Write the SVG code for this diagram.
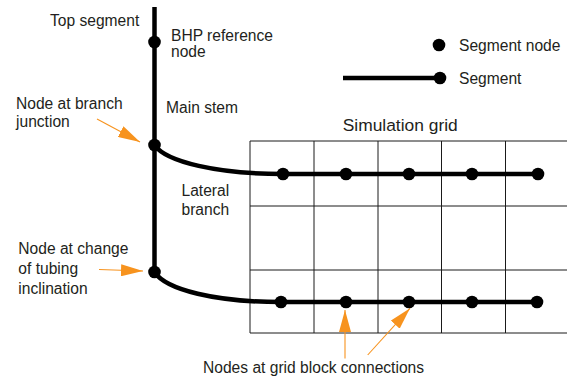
<svg xmlns="http://www.w3.org/2000/svg" width="567" height="379" viewBox="0 0 567 379">
<style>
.lbl{font-family:"Liberation Sans",Arial,sans-serif;font-size:15.6px;fill:#231f20}
.title{font-family:"Liberation Sans",Arial,sans-serif;font-size:17.4px;fill:#231f20}
.seg{stroke:#000;stroke-width:4.5;fill:none;stroke-linecap:butt}
.node{fill:#000}
.grid{stroke:#1a1a1a;stroke-width:1;fill:none}
.arr{stroke:#f7931e;stroke-width:1.1;fill:none}
</style>
<defs>
<marker id="ah" markerUnits="userSpaceOnUse" markerWidth="22" markerHeight="12" refX="22" refY="6" orient="auto">
<path d="M0,0 L22,6 L0,12 Z" fill="#f7931e"/>
</marker>
</defs>
<g id="grid">
<path class="grid" d="M250,141H567M250,206H567M250,270H567M250,333H567M250,141V333M314,141V333M378,141V333M441.5,141V333M505.5,141V333"/>
</g>
<g id="connectors">
<path class="seg" d="M154.5,7V272"/>
<path class="seg" d="M154.5,145C166,162 218,174 283,174H538"/>
<path class="seg" d="M154.5,272C166,290 216,302 281,302H537"/>
<path class="seg" d="M343,78H440"/>
<line class="arr" x1="97" y1="119" x2="140" y2="142" marker-end="url(#ah)"/>
<line class="arr" x1="99" y1="269.5" x2="143" y2="271" marker-end="url(#ah)"/>
<line class="arr" x1="345" y1="358.5" x2="345" y2="310" marker-end="url(#ah)"/>
<line class="arr" x1="367.7" y1="355" x2="410" y2="308.3" marker-end="url(#ah)"/>
</g>
<g id="bhp-node"><circle class="node" cx="154.5" cy="42" r="6.3"/></g>
<g id="junction-node"><circle class="node" cx="154.5" cy="145" r="6.3"/></g>
<g id="inclination-node"><circle class="node" cx="154.5" cy="272" r="6.3"/></g>
<g id="upper-nodes">
<circle class="node" cx="283" cy="174" r="6.3"/>
<circle class="node" cx="346" cy="174" r="6.3"/>
<circle class="node" cx="409" cy="174" r="6.3"/>
<circle class="node" cx="472" cy="174" r="6.3"/>
<circle class="node" cx="538" cy="174" r="6.3"/>
</g>
<g id="lower-nodes">
<circle class="node" cx="281" cy="302" r="6.3"/>
<circle class="node" cx="346" cy="302" r="6.3"/>
<circle class="node" cx="409" cy="302" r="6.3"/>
<circle class="node" cx="472" cy="302" r="6.3"/>
<circle class="node" cx="537" cy="302" r="6.3"/>
</g>
<g id="legend">
<circle class="node" cx="439" cy="45" r="6.3"/>
<circle class="node" cx="440" cy="78" r="6.3"/>
<text class="lbl" x="459" y="50.5">Segment node</text>
<text class="lbl" x="459" y="83.5">Segment</text>
</g>
<g id="labels">
<text class="lbl" x="50" y="26">Top segment</text>
<text class="lbl" x="171" y="41">BHP reference</text>
<text class="lbl" x="171" y="56.5">node</text>
<text class="lbl" x="166" y="113">Main stem</text>
<text class="lbl" x="16" y="109">Node at branch</text>
<text class="lbl" x="16" y="127">junction</text>
<text class="lbl" x="181.5" y="196">Lateral</text>
<text class="lbl" x="181.5" y="215">branch</text>
<text class="lbl" x="18.3" y="254">Node at change</text>
<text class="lbl" x="18.3" y="274">of tubing</text>
<text class="lbl" x="18.3" y="293.5">inclination</text>
<text class="title" x="342.7" y="130.7">Simulation grid</text>
<text class="lbl" x="203" y="373">Nodes at grid block connections</text>
</g>
</svg>
